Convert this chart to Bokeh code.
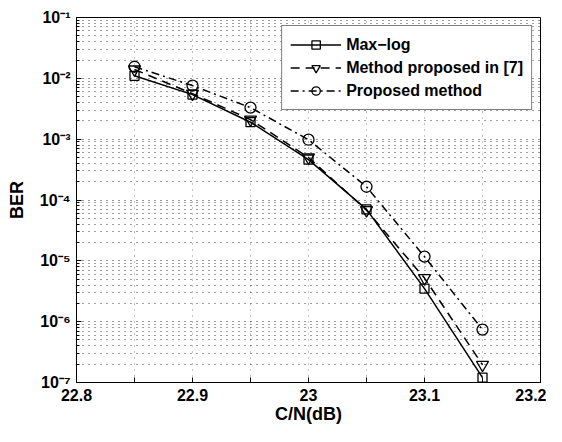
from bokeh.plotting import figure
from bokeh.models import FixedTicker, CustomJSTickFormatter, Legend, LegendItem
from bokeh.embed import file_html
from bokeh.resources import INLINE

# ---- data ----
cn_db = [22.85, 22.9, 22.95, 23.0, 23.05, 23.1, 23.15]
ber_maxlog = [1.1e-2, 5.4e-3, 1.9e-3, 4.6e-4, 7.0e-5, 3.5e-6, 1.2e-7]
ber_method7 = [1.4e-2, 5.6e-3, 2.1e-3, 5.0e-4, 6.8e-5, 5.2e-6, 1.95e-7]
ber_proposed = [1.55e-2, 7.6e-3, 3.3e-3, 9.8e-4, 1.65e-4, 1.17e-5, 7.4e-7]

series_names = ["Max\u2212log", "Method proposed in [7]", "Proposed method"]

x_label_ticks = [22.8, 22.9, 23.0, 23.1, 23.2]
x_half_ticks = [22.85, 22.95, 23.05, 23.15]
x_grid_ticks = [22.8, 22.85, 22.9, 22.95, 23.0, 23.05, 23.1, 23.15, 23.2]
y_ticks = [1e-7, 1e-6, 1e-5, 1e-4, 1e-3, 1e-2, 1e-1]
y_minor = [m * d for d in [1e-7, 1e-6, 1e-5, 1e-4, 1e-3, 1e-2] for m in range(2, 10)]

FONT = "Liberation Sans"

p = figure(width=546, height=426, output_backend="svg", toolbar_location=None,
           x_range=(22.8, 23.2), y_range=(1e-7, 1e-1), y_axis_type="log",
           min_border_left=76, min_border_right=6, min_border_top=17,
           min_border_bottom=40)
p.background_fill_color = "white"
p.border_fill_color = "white"
p.outline_line_color = "black"
p.outline_line_width = 1

xfmt = CustomJSTickFormatter(code="""
let s = tick.toFixed(1);
if (s.endsWith(".0")) s = s.slice(0, -2);
return s;
""")
yfmt = CustomJSTickFormatter(code="""
const e = Math.round(Math.log10(tick));
const m = {"-":"\u207b","0":"\u2070","1":"\u00b9","2":"\u00b2","3":"\u00b3","4":"\u2074","5":"\u2075","6":"\u2076","7":"\u2077","8":"\u2078","9":"\u2079"};
let s = "";
for (const c of String(e)) s += m[c];
return "10" + s;
""")

p.xaxis.ticker = FixedTicker(ticks=x_label_ticks, minor_ticks=x_half_ticks)
p.xaxis.formatter = xfmt
p.yaxis.ticker = FixedTicker(ticks=y_ticks, minor_ticks=y_minor)
p.yaxis.formatter = yfmt

for ax in [p.xaxis[0], p.yaxis[0]]:
    ax.major_label_text_font = FONT
    ax.major_label_text_font_style = "bold"
    ax.major_label_text_font_size = "16px"
    ax.major_label_text_color = "black"
    ax.axis_label_text_font = FONT
    ax.axis_label_text_font_style = "bold"
    ax.axis_label_text_font_size = "18px"
    ax.axis_label_text_color = "black"
    ax.axis_line_color = "black"
    ax.major_tick_in = 5
    ax.major_tick_out = 0
    ax.minor_tick_in = 3
    ax.minor_tick_out = 0
    ax.major_tick_line_color = "black"
    ax.minor_tick_line_color = "black"

p.xaxis.minor_tick_in = 5
p.xaxis.axis_label = "C/N(dB)"
p.yaxis.axis_label = "BER"
p.xaxis.major_label_standoff = 6
p.xaxis.axis_label_standoff = 0
p.yaxis.major_label_standoff = 6
p.yaxis.axis_label_standoff = 10

# grid
p.xgrid.ticker = FixedTicker(ticks=x_grid_ticks)
p.xgrid.grid_line_color = "black"
p.xgrid.grid_line_alpha = 0.45
p.xgrid.grid_line_dash = "1 5"
p.ygrid.grid_line_color = "black"
p.ygrid.grid_line_alpha = 0.8
p.ygrid.grid_line_dash = "1 5"
p.ygrid.minor_grid_line_color = "black"
p.ygrid.minor_grid_line_alpha = 0.75
p.ygrid.minor_grid_line_dash = "1 5"

# series
l1 = p.line(cn_db, ber_maxlog, line_color="black", line_width=1.5)
m1 = p.scatter(cn_db, ber_maxlog, marker="square", size=9, fill_color=None,
               line_color="black", line_width=1.3)
l2 = p.line(cn_db, ber_method7, line_color="black", line_width=1.5, line_dash="9 6")
m2 = p.scatter(cn_db, ber_method7, marker="inverted_triangle", size=12, fill_color=None,
               line_color="black", line_width=1.3)
l3 = p.line(cn_db, ber_proposed, line_color="black", line_width=1.5, line_dash="8 4 2 4")
m3 = p.scatter(cn_db, ber_proposed, marker="circle", size=11, fill_color=None,
               line_color="black", line_width=1.3)

legend = Legend(items=[LegendItem(label=series_names[0], renderers=[l1, m1]),
                       LegendItem(label=series_names[1], renderers=[l2, m2]),
                       LegendItem(label=series_names[2], renderers=[l3, m3])],
                location="top_right")
legend.margin = 8
legend.padding = 8
legend.spacing = 2
legend.label_height = 21
legend.glyph_height = 21
legend.glyph_width = 51
legend.label_standoff = 5
legend.label_text_font = FONT
legend.label_text_font_style = "bold"
legend.label_text_font_size = "16px"
legend.label_text_color = "black"
legend.border_line_color = "black"
legend.border_line_width = 1
legend.background_fill_color = "white"
legend.background_fill_alpha = 1.0
p.add_layout(legend, "center")

open("out.html", "w").write(file_html(p, INLINE))
